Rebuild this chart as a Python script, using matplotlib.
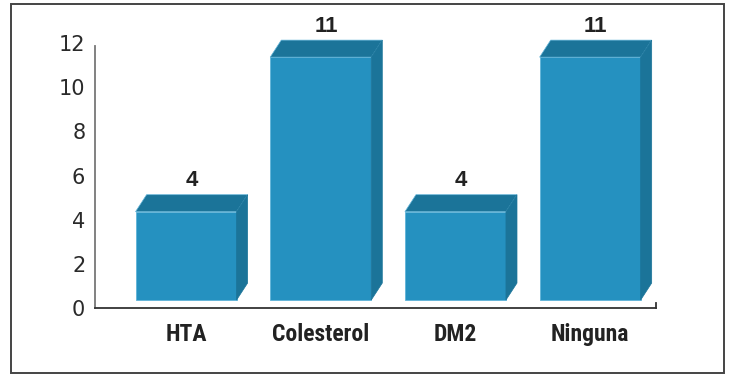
import matplotlib
matplotlib.use("Agg")
import matplotlib.pyplot as plt
from matplotlib import font_manager
from matplotlib.patches import Polygon, Rectangle

categories = ["HTA", "Colesterol", "DM2", "Ninguna"]
values = [4, 11, 4, 11]
yticks = [0, 2, 4, 6, 8, 10, 12]

FRONT = "#2591c0"
SHADE = "#1b7499"
EDGE = "#5fb3d8"


def condensed_bold():
    """Pick an installed condensed bold face for the category labels."""
    fonts = font_manager.fontManager.ttflist
    for name in ["Liberation Sans Narrow", "Roboto Condensed", "Open Sans Condensed",
                 "DejaVu Sans Condensed"]:
        for f in fonts:
            if f.name == name:
                return dict(family=name, fontweight="bold")
    for f in fonts:
        st = str(f.stretch)
        if f.name == "DejaVu Sans" and ("condensed" in st or st in ("300", "400")) \
                and f.weight in ("bold", 700):
            return dict(fname=f.fname)
    return dict(family="DejaVu Sans", fontweight="bold")


W, H, DPI = 731, 374, 100
fig = plt.figure(figsize=(W / DPI, H / DPI), dpi=DPI)

# outer frame around the whole chart
fig.patches.append(Rectangle((11 / W, 1 - 373 / H), (724 - 11) / W, (373 - 4) / H,
                             transform=fig.transFigure, fill=False,
                             edgecolor="#444444", linewidth=1.4))

ax = fig.add_axes([95 / W, (H - 308) / H, (656 - 95) / W, (308 - 43) / H])
ax.set_xlim(-0.676, 3.489)
ax.set_ylim(0, 12)

x = list(range(len(categories)))
width = 0.75      # front face width (x units)
base = 0.36       # floor lift of the 3D boxes (y units)
dx, dy = 0.082, 0.77  # depth offset of the 3D boxes

ax.bar(x, values, width=width, bottom=base, color=FRONT, edgecolor=EDGE,
       linewidth=0.6, zorder=3, clip_on=False)

for xi, v in zip(x, values):
    l, r = xi - width / 2, xi + width / 2
    top = base + v
    ax.add_patch(Polygon([(l, top), (l + dx, top + dy), (r + dx, top + dy), (r, top)],
                         closed=True, facecolor=SHADE, edgecolor=EDGE, linewidth=0.5,
                         zorder=3, clip_on=False))
    ax.add_patch(Polygon([(r, base), (r + dx, base + dy), (r + dx, top + dy), (r, top)],
                         closed=True, facecolor=SHADE, edgecolor=SHADE, linewidth=0.5,
                         zorder=3, clip_on=False))
    ax.annotate(f"{v}", (xi + dx / 2, top + dy), xytext=(0, 2.5), textcoords="offset points",
                ha="center", va="bottom", fontsize=16, fontweight="bold",
                family="Liberation Sans", color="#222222", annotation_clip=False)

for s in ["top", "right"]:
    ax.spines[s].set_visible(False)
ax.spines["left"].set_color("#777777")
ax.spines["left"].set_linewidth(1.3)
ax.spines["left"].set_bounds(0, 11.85)
ax.spines["bottom"].set_color("#333333")
ax.spines["bottom"].set_linewidth(1.3)
ax.plot([1, 1], [0, 0.018], transform=ax.transAxes, color="#333333",
        linewidth=1.3, clip_on=False)

ax.set_yticks(yticks)
ax.set_yticklabels([str(t) for t in yticks], family="DejaVu Sans",
                   fontsize=15, color="#2a2a2a")
ax.tick_params(axis="y", length=0, pad=7)

ax.set_xticks(x)
ax.set_xticklabels(categories, fontsize=17, color="#222222", **condensed_bold())
ax.tick_params(axis="x", length=0, pad=11)

fig.savefig("out.png", dpi=DPI)
